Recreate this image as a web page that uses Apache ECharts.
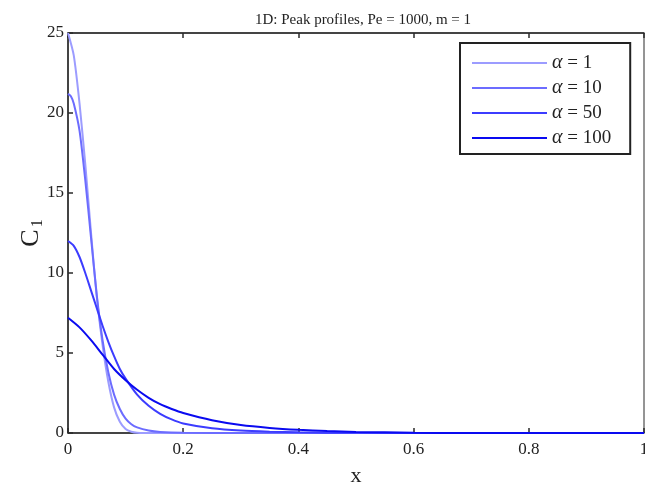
<!DOCTYPE html>
<html>
<head>
<meta charset="utf-8">
<script src="https://cdn.jsdelivr.net/npm/echarts@6/dist/echarts.min.js"></script>
<style>
  html, body { margin: 0; padding: 0; background: #fff; }
  #chart { width: 645px; height: 487px; }
</style>
</head>
<body>
<div id="chart"></div>
<script>
// values
const xTicks = [0, 0.2, 0.4, 0.6, 0.8, 1];
const yTicks = [0, 5, 10, 15, 20, 25];

const alpha1X = [0, 0.01, 0.02, 0.03, 0.04, 0.05, 0.06, 0.07, 0.08, 0.09, 0.1, 0.11, 0.12, 0.15, 0.2, 1];
const alpha1Y = [25, 23.6, 20.6, 16.8, 12.5, 8.5, 5.5, 3.2, 1.6, 0.7, 0.25, 0.08, 0.02, 0, 0, 0];

const alpha10X = [0, 0.005, 0.01, 0.02, 0.03, 0.04, 0.05, 0.06, 0.07, 0.08, 0.09, 0.1, 0.11, 0.12, 0.14, 0.16, 0.2, 0.3, 1];
const alpha10Y = [21.2, 21.05, 20.6, 18.9, 15.8, 12.2, 8.6, 5.8, 3.8, 2.4, 1.5, 0.9, 0.55, 0.35, 0.15, 0.06, 0.01, 0, 0];

const alpha50X = [0, 0.01, 0.02, 0.03, 0.04, 0.05, 0.06, 0.07, 0.08, 0.09, 0.1, 0.12, 0.14, 0.16, 0.18, 0.2, 0.25, 0.3, 0.35, 0.4, 0.5, 0.6, 1];
const alpha50Y = [12, 11.7, 11, 10, 8.9, 7.8, 6.7, 5.7, 4.8, 4, 3.4, 2.4, 1.7, 1.2, 0.85, 0.6, 0.3, 0.15, 0.08, 0.04, 0.01, 0, 0];

const alpha100X = [0, 0.02, 0.04, 0.06, 0.08, 0.1, 0.12, 0.14, 0.16, 0.18, 0.2, 0.25, 0.3, 0.35, 0.4, 0.45, 0.5, 0.6, 0.7, 1];
const alpha100Y = [7.2, 6.6, 5.8, 4.9, 4.0, 3.3, 2.7, 2.2, 1.8, 1.5, 1.25, 0.8, 0.5, 0.32, 0.2, 0.12, 0.07, 0.02, 0, 0];

const seriesNames = ['1', '10', '50', '100'];
const seriesColors = ['#9c9cff', '#6c6cff', '#3c3cff', '#0a0af0'];

const font = 'Liberation Serif, Times New Roman, serif';
const ink = '#222';

function pairs(xs, ys) {
  return xs.map((x, i) => [x, ys[i]]);
}

const allData = [
  pairs(alpha1X, alpha1Y),
  pairs(alpha10X, alpha10Y),
  pairs(alpha50X, alpha50Y),
  pairs(alpha100X, alpha100Y),
];

const chart = echarts.init(document.getElementById('chart'), null, { renderer: 'canvas' });

const axisLine = { show: true, lineStyle: { color: '#2a2a2a', width: 1.5 } };
const axisTick = { show: true, inside: true, length: 5, lineStyle: { color: '#2a2a2a', width: 1.5 } };

const option = {
  animation: false,
  backgroundColor: '#fff',
  title: {
    text: '1D: Peak profiles, Pe = 1000, m = 1',
    left: 358,
    top: 8,
    textAlign: 'center',
    textStyle: { fontFamily: font, fontSize: 15, fontWeight: 'normal', color: ink },
  },
  grid: {
    left: 68,
    right: 1,
    top: 33,
    bottom: 54,
    outerBoundsMode: 'none',
    containLabel: false,
    show: true,
    borderColor: '#2a2a2a',
    borderWidth: 1,
    backgroundColor: '#fff',
  },
  legend: {
    orient: 'vertical',
    left: 460,
    top: 43,
    padding: [10, 19, 6, 12],
    itemWidth: 75,
    itemHeight: 14,
    itemGap: 5,
    borderColor: '#222',
    borderWidth: 2,
    backgroundColor: '#fff',
    icon: 'path://M0,0 L75,0 L75,2 L0,2 Z',
    data: seriesNames,
    formatter: (name) => '{a|α} = ' + name,
    textStyle: {
      fontFamily: font,
      fontSize: 19,
      lineHeight: 20,
      color: ink,
      rich: {
        a: { fontFamily: font, fontSize: 20, lineHeight: 20, fontStyle: 'italic', color: ink },
      },
    },
  },
  xAxis: [
    {
      type: 'value',
      min: 0,
      max: 1,
      interval: 0.2,
      name: 'x',
      nameLocation: 'middle',
      nameGap: 32,
      nameTextStyle: { fontFamily: font, fontSize: 22, color: ink },
      axisLine: axisLine,
      axisTick: axisTick,
      axisLabel: {
        margin: 8,
        fontFamily: font,
        fontSize: 17,
        color: ink,
        formatter: (v) => (xTicks.indexOf(v) >= 0 ? String(v) : ''),
      },
      splitLine: { show: false },
    },
    {
      type: 'value',
      position: 'top',
      min: 0,
      max: 1,
      interval: 0.2,
      axisLine: axisLine,
      axisTick: axisTick,
      axisLabel: { show: false },
      splitLine: { show: false },
    },
  ],
  yAxis: {
    type: 'value',
    min: 0,
    max: 25,
    interval: 5,
    name: '{c|C}{s|1}',
    nameLocation: 'middle',
    nameRotate: 90,
    nameGap: 22,
    nameMoveOverlap: false,
    nameTextStyle: {
      rich: {
        c: { fontFamily: font, fontSize: 26, color: ink },
        s: { fontFamily: font, fontSize: 16, color: ink, padding: [14, 0, 0, 2] },
      },
    },
    axisLine: axisLine,
    axisTick: axisTick,
    axisLabel: {
      margin: 4,
      fontFamily: font,
      fontSize: 17,
      color: ink,
      formatter: (v) => (yTicks.indexOf(v) >= 0 ? String(v) : ''),
    },
    splitLine: { show: false },
  },
  series: seriesNames.map((n, i) => ({
    name: n,
    type: 'line',
    xAxisIndex: 0,
    data: allData[i],
    smooth: 0.25,
    showSymbol: false,
    symbol: 'none',
    clip: true,
    color: seriesColors[i],
    lineStyle: { color: seriesColors[i], width: 2 },
    z: 2 + i,
  })),
};

chart.setOption(option);
</script>
</body>
</html>
